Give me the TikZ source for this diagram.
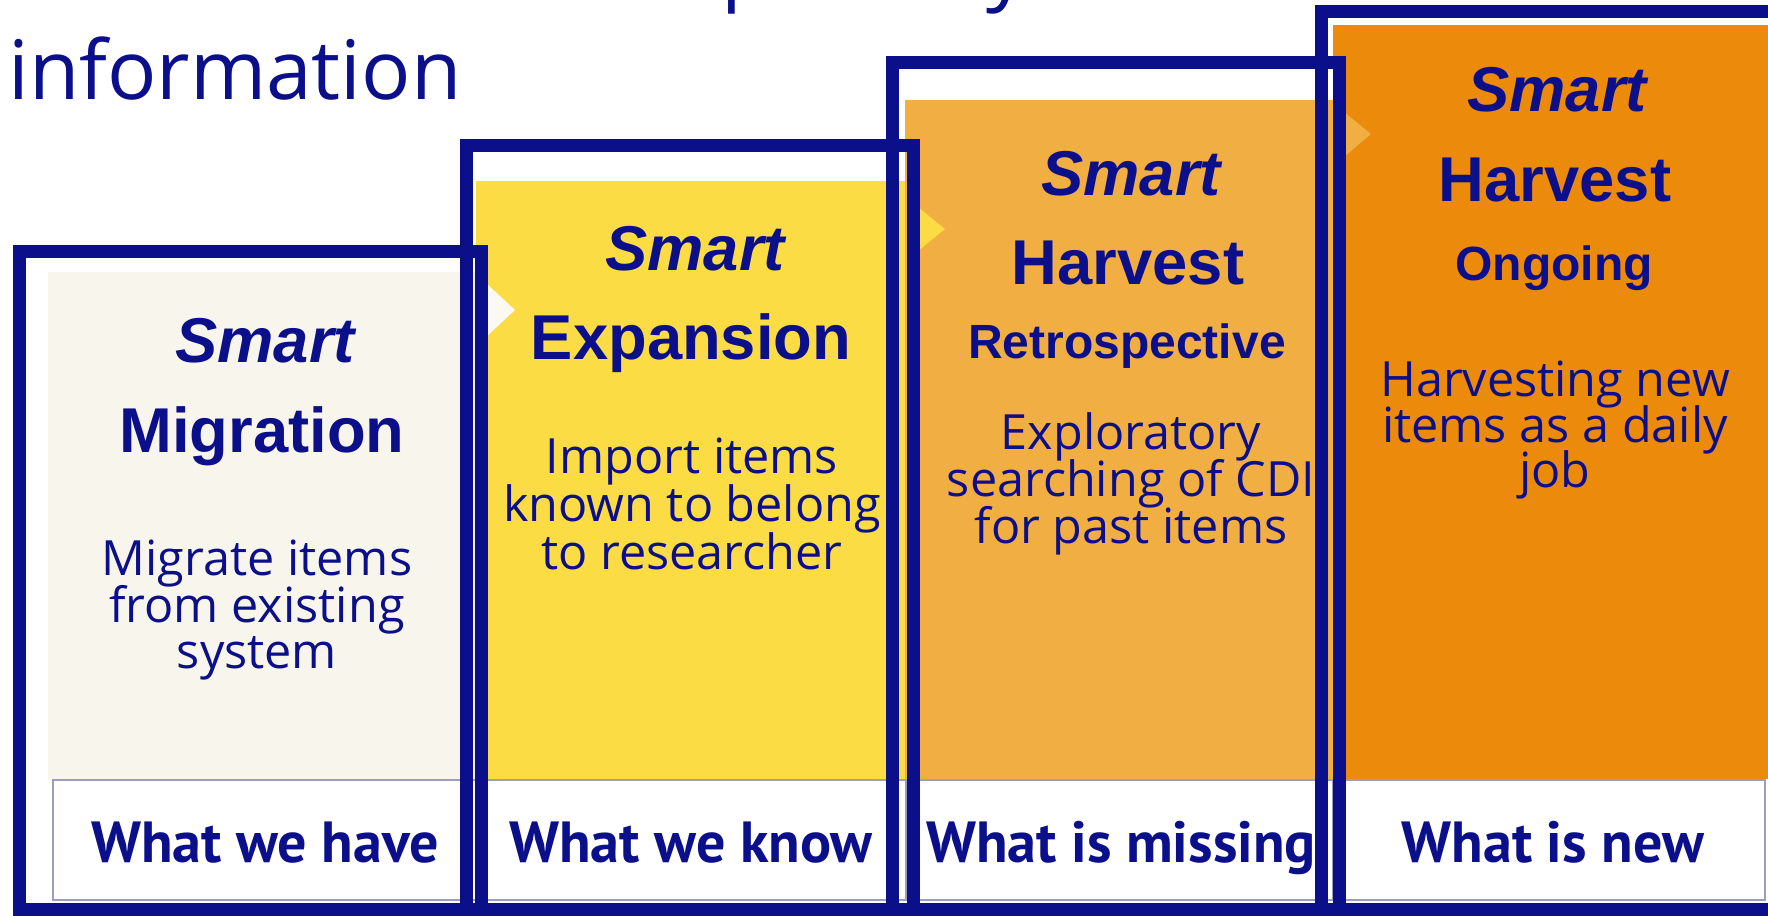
\documentclass[tikz,border=0pt]{standalone}
\usepackage{fontspec}
\setmainfont{Open Sans}
\newfontfamily\headfont{Liberation Sans}
\newfontfamily\labelfont{PT Sans}
\newfontfamily\bodyfont{Open Sans}
\definecolor{navy}{HTML}{0B108A}
\definecolor{cream}{HTML}{F8F6EC}
\definecolor{creamtip}{HTML}{FBF9F2}
\definecolor{yellowp}{HTML}{FCDC45}
\definecolor{lorange}{HTML}{F1AE42}
\definecolor{dorange}{HTML}{EC8A0C}
\definecolor{boxline}{HTML}{9A9EBB}
\tikzset{
  frame/.style={draw=navy, line width=9.75pt},
  labelbox/.style={draw=boxline, line width=1pt, fill=white},
  smartt/.style={anchor=base, inner sep=0pt, text=navy, font=\headfont\bfseries\itshape\fontsize{47.5}{50}\selectfont},
  headt/.style={anchor=base, inner sep=0pt, text=navy, font=\headfont\bfseries\fontsize{47.5}{50}\selectfont},
  subt/.style={anchor=base, inner sep=0pt, text=navy, font=\headfont\bfseries\fontsize{36}{40}\selectfont},
  bodyt/.style={anchor=base, inner sep=0pt, text=navy, font=\bodyfont\fontsize{36.4}{38}\selectfont},
  labelt/.style={anchor=base, inner sep=0pt, text=navy, font=\labelfont\bfseries\fontsize{43.5}{46}\selectfont},
  titlet/.style={anchor=base west, inner sep=0pt, text=navy, font=\fontsize{61.5}{66}\selectfont}
}
\begin{document}
\begin{tikzpicture}[x=0.75pt, y=-0.75pt]
\useasboundingbox (0,0) rectangle (1768,915);
\fill[white] (0,0) rectangle (1768,915);

% title fragments
\node[titlet] (tp) at (721,-6) {p};
\node[titlet] (ty) at (986,-6) {y};
\node[titlet] (title) at (8,99) {information};

% panels
\fill[cream] (48,272) rectangle (480,779);
\fill[yellowp] (476,181) rectangle (906,779);
\fill[lorange] (905,100) rectangle (1334,779);
\fill[dorange] (1333,25) rectangle (1768,779);

% chevron tips
\fill[creamtip] (486,283) -- (515,310) -- (486,337) -- cycle;
\fill[yellowp] (918,207) -- (945,229) -- (918,251) -- cycle;
\fill[lorange] (1344,112) -- (1371,134) -- (1344,157) -- cycle;

% label boxes
\draw[labelbox] (53,780) rectangle (478,900);
\draw[labelbox] (478,780) rectangle (906,900);
\draw[labelbox] (906,780) rectangle (1333,900);
\draw[labelbox] (1333,780) rectangle (1765,900);

% panel 1
\node[smartt] (s1) at (265,362) {Smart};
\node[headt] (h1) at (262,452) {Migration};
\node[bodyt] (b1a) at (257,575) {Migrate items};
\node[bodyt] (b1b) at (257,622) {from existing};
\node[bodyt] (b1c) at (257,668) {system};

% panel 2
\node[smartt] (s2) at (695,270) {Smart};
\node[headt] (h2) at (691,359) {Expansion};
\node[bodyt] (b2a) at (692,473) {Import items};
\node[bodyt] (b2b) at (692,521) {known to belong};
\node[bodyt] (b2c) at (692,569) {to researcher};

% panel 3
\node[smartt] (s3) at (1131,195) {Smart};
\node[headt] (h3) at (1128,284) {Harvest};
\node[subt] (r3) at (1127,358) {Retrospective};
\node[bodyt] (b3a) at (1131,449) {Exploratory};
\node[bodyt] (b3b) at (1131,496) {searching of CDI};
\node[bodyt] (b3c) at (1131,543) {for past items};

% panel 4
\node[smartt] (s4) at (1557,111) {Smart};
\node[headt] (h4) at (1555,201) {Harvest};
\node[subt] (r4) at (1554,280) {Ongoing};
\node[bodyt] (b4a) at (1555,396) {Harvesting new};
\node[bodyt] (b4b) at (1555,442) {items as a daily};
\node[bodyt] (b4c) at (1555,487) {job};

% labels
\node[labelt] (l1) at (265,862) {What we have};
\node[labelt] (l2) at (691,862) {What we know};
\node[labelt] (l3) at (1121,862) {What is missing};
\node[labelt] (l4) at (1553,862) {What is new};

% frames
\draw[frame] (19.5,251.5) rectangle (481.5,909);
\draw[frame] (466.5,145.5) rectangle (913.5,909);
\draw[frame] (892.5,62.5) rectangle (1339.5,909);
\draw[frame] (1321.5,11.5) rectangle (1800,909);
\end{tikzpicture}
\end{document}
